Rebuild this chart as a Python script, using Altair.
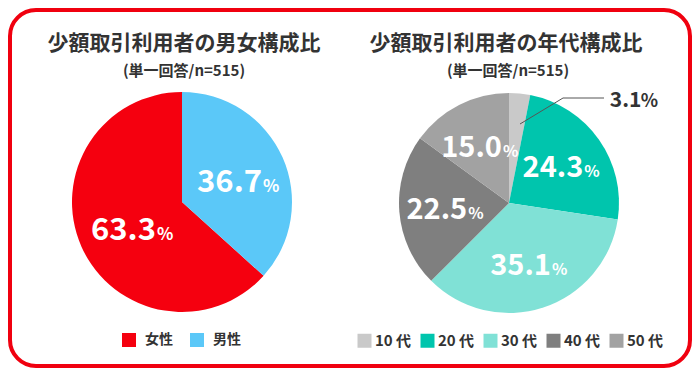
import altair as alt
import pandas as pd

# ---- data ----
gender_labels = ["女性", "男性"]
gender_values = [63.3, 36.7]
gender_colors = ["#F5000F", "#5BC8F8"]
gender_stack = ["男性", "女性"]          # clockwise order from 12 o'clock

age_labels = ["10代", "20代", "30代", "40代", "50代"]
age_values = [3.1, 24.3, 35.1, 22.5, 15.0]
age_colors = ["#C9C9C9", "#00C5AD", "#80E1D6", "#7F7F7F", "#A2A2A2"]

title_left = "少額取引利用者の男女構成比"
title_right = "少額取引利用者の年代構成比"
subtitle = "(単一回答/n=515)"

gdf = pd.DataFrame({"gender": gender_labels, "value": gender_values})
gdf["rank"] = gdf["gender"].map({g: i for i, g in enumerate(gender_stack)})
gdf["num"] = gdf["value"].map(lambda v: f"{v:.1f}")

adf = pd.DataFrame({"age": age_labels, "value": age_values})
adf["rank"] = list(range(len(age_labels)))
adf["num"] = adf["value"].map(lambda v: f"{v:.1f}")

FONT = "Noto Sans CJK JP"
DARK = "#333333"
RED = "#F0000F"

W, H = 684, 360
LX, LY = 174, 194
RX, RY = 501, 195
R = 110

one = pd.DataFrame({"k": [0]})

border = alt.Chart(one).mark_rect(
    fill="white", stroke=RED, strokeWidth=4, cornerRadius=26
).encode(x=alt.value(2), x2=alt.value(W - 2), y=alt.value(2), y2=alt.value(H - 2))


def legend(x, y, offset, colpad, size):
    return alt.Legend(
        title=None, orient="none", legendX=x, legendY=y, direction="horizontal",
        symbolType="square", symbolSize=196, symbolStrokeWidth=0,
        labelOffset=offset, columnPadding=colpad, labelFontSize=size,
        labelFont=FONT, labelFontWeight="bold", labelColor=DARK, padding=0,
        labelExpr="replace(datum.label, '代', ' 代')",
    )


theta = alt.Theta("value:Q", stack=True)

left_arc = alt.Chart(gdf).mark_arc(outerRadius=R).encode(
    theta=theta,
    order=alt.Order("rank:Q"),
    color=alt.Color("gender:N", scale=alt.Scale(domain=gender_labels, range=gender_colors),
                    legend=legend(114, 325, 9, 17, 14)),
    x=alt.value(LX), y=alt.value(LY),
)

left_num = alt.Chart(gdf).mark_text(
    radius=58, font=FONT, fontWeight="bold", fontSize=31, color="white",
    align="right", baseline="alphabetic", dx=27, dy=14,
).encode(theta=theta, order=alt.Order("rank:Q"), text="num:N",
         x=alt.value(LX), y=alt.value(LY))

left_pct = alt.Chart(gdf).mark_text(
    radius=58, font=FONT, fontWeight="bold", fontSize=17, color="white",
    align="left", baseline="alphabetic", dx=28, dy=14,
).encode(theta=theta, order=alt.Order("rank:Q"), text=alt.value("%"),
         x=alt.value(LX), y=alt.value(LY))

right_arc = alt.Chart(adf).mark_arc(outerRadius=R).encode(
    theta=theta,
    order=alt.Order("rank:Q"),
    color=alt.Color("age:N", scale=alt.Scale(domain=age_labels, range=age_colors),
                    legend=legend(349, 325, 3, 8, 15)),
    x=alt.value(RX), y=alt.value(RY),
)

is_small = alt.datum.value < 5

right_num = alt.Chart(adf).mark_text(
    radius=64, font=FONT, fontWeight="bold", fontSize=29, color="white",
    align="right", baseline="alphabetic", dx=22, dy=11,
).encode(theta=theta, order=alt.Order("rank:Q"), text="num:N",
         opacity=alt.condition(is_small, alt.value(0), alt.value(1)),
         x=alt.value(RX), y=alt.value(RY))

right_pct = alt.Chart(adf).mark_text(
    radius=64, font=FONT, fontWeight="bold", fontSize=16, color="white",
    align="left", baseline="alphabetic", dx=23, dy=11,
).encode(theta=theta, order=alt.Order("rank:Q"), text=alt.value("%"),
         opacity=alt.condition(is_small, alt.value(0), alt.value(1)),
         x=alt.value(RX), y=alt.value(RY))

small_num = alt.Chart(adf).mark_text(
    radius=80, font=FONT, fontWeight="bold", fontSize=21, color=DARK,
    align="left", baseline="alphabetic", dx=93, dy=-16,
).encode(theta=theta, order=alt.Order("rank:Q"), text="num:N",
         opacity=alt.condition(is_small, alt.value(1), alt.value(0)),
         x=alt.value(RX), y=alt.value(RY))

small_pct = alt.Chart(adf).mark_text(
    radius=80, font=FONT, fontWeight="bold", fontSize=18, color=DARK,
    align="left", baseline="alphabetic", dx=124, dy=-16,
).encode(theta=theta, order=alt.Order("rank:Q"), text=alt.value("%"),
         opacity=alt.condition(is_small, alt.value(1), alt.value(0)),
         x=alt.value(RX), y=alt.value(RY))

leader1 = alt.Chart(one).mark_rule(color="#555555", strokeWidth=1).encode(
    x=alt.value(512), y=alt.value(116), x2=alt.value(555), y2=alt.value(90))
leader2 = alt.Chart(one).mark_rule(color="#555555", strokeWidth=1).encode(
    x=alt.value(555), y=alt.value(90), x2=alt.value(596), y2=alt.value(90))


def title_text(txt, x, y, size):
    return alt.Chart(one).mark_text(
        text=txt, font=FONT, fontWeight="bold", fontSize=size, color=DARK,
        align="center", baseline="middle",
    ).encode(x=alt.value(x), y=alt.value(y))


titles = [
    title_text(title_left, 176, 36, 21),
    title_text(subtitle, 176, 63, 15),
    title_text(title_right, 498, 36, 21),
    title_text(subtitle, 500, 63, 15),
]

chart = alt.layer(
    border, left_arc, left_num, left_pct,
    right_arc, right_num, right_pct, small_num, small_pct,
    leader1, leader2, *titles,
).resolve_scale(color="independent").properties(
    width=W, height=H, autosize=alt.AutoSizeParams(type="none"), padding=0,
    background="white",
).configure_view(stroke=None)

chart.save("out.html", embed_options={"renderer": "svg", "actions": False})
